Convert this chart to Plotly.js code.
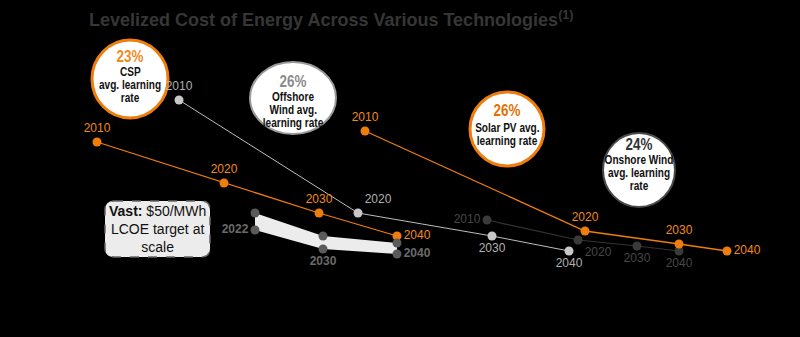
<!DOCTYPE html>
<html><head><meta charset="utf-8">
<script src="https://cdn.plot.ly/plotly-3.0.1.min.js"></script>
<style>html,body{margin:0;padding:0;background:#000;}#chart{width:800px;height:337px;}</style>
</head><body><div id="chart"></div>
<script>
// Positions on the chart's (unitless) layout grid: x = horizontal position, y = relative LCOE (downwards = cheaper)
const years = ["2010", "2020", "2030", "2040"];
const cspX = [97, 224, 319, 397];
const cspY = [142, 183, 213, 236];
const offX = [179, 358, 492, 569];
const offY = [100, 213, 236, 251];
const pvX = [365, 585, 679, 727];
const pvY = [131, 231, 244, 251];
const onX = [487, 578, 637, 679];
const onY = [220, 240, 246, 251];
const vastYears = ["2022", "2030", "2040"];
const vastX = [255, 323, 397];
const vastHigh = [213, 236, 243];
const vastLow = [230, 249, 254];

const orange = "#ef7d0c", orangeTxt = "#f08a1c";
const F = "Liberation Sans, Arial, sans-serif";

function series(x, y, labels, lineColor, lw, mColor, msize, tColor, pos) {
  return {x: x, y: y, type: "scatter", mode: "lines+markers+text", text: labels,
    textposition: pos, textfont: {family: F, size: 12, color: tColor},
    line: {color: lineColor, width: lw}, marker: {color: mColor, size: msize},
    hoverinfo: "skip", cliponaxis: false};
}

const bandX = vastX.concat(vastX.slice().reverse());
const bandY = vastHigh.concat(vastLow.slice().reverse());

const traces = [
  {x: bandX, y: bandY, type: "scatter", mode: "lines", fill: "toself", fillcolor: "#ececec",
   line: {width: 0, color: "#ececec"}, hoverinfo: "skip"},
  series(onX, onY, years, "#333333", 1.2, "#3a3a3a", 9, "#474747",
    ["middle left", "bottom right", "bottom center", "bottom center"]),
  series(offX, offY, years, "#bdbdbd", 1, "#c8c8c8", 9, "#b0b0b0",
    ["top center", "top right", "bottom center", "bottom center"]),
  series(cspX, cspY, years, orange, 1.3, orange, 9, orangeTxt,
    ["top center", "top center", "top center", "middle right"]),
  series(pvX, pvY, years, orange, 1.3, orange, 9, orangeTxt,
    ["top center", "top center", "top center", "middle right"]),
  {x: vastX, y: vastHigh, type: "scatter", mode: "markers", marker: {color: "#5a5a5a", size: 9}, hoverinfo: "skip", cliponaxis: false},
  {x: vastX, y: vastLow, type: "scatter", mode: "markers+text", text: vastYears,
   textposition: ["middle left", "bottom center", "middle right"],
   textfont: {family: F, size: 12, color: "#6a6a6a", weight: "bold"},
   marker: {color: "#5a5a5a", size: 9}, hoverinfo: "skip", cliponaxis: false}
];

function circle(cx, cy, rx, ry, color, lw) {
  return {type: "circle", xref: "x", yref: "y", x0: cx - rx, x1: cx + rx, y0: cy - ry, y1: cy + ry,
    fillcolor: "#ffffff", line: {color: color, width: lw}, layer: "below"};
}
function rrect(x0, y0, x1, y1, r) {
  return "M" + (x0 + r) + "," + y0 + " L" + (x1 - r) + "," + y0 + " Q" + x1 + "," + y0 + " " + x1 + "," + (y0 + r) +
    " L" + x1 + "," + (y1 - r) + " Q" + x1 + "," + y1 + " " + (x1 - r) + "," + y1 +
    " L" + (x0 + r) + "," + y1 + " Q" + x0 + "," + y1 + " " + x0 + "," + (y1 - r) +
    " L" + x0 + "," + (y0 + r) + " Q" + x0 + "," + y0 + " " + (x0 + r) + "," + y0 + " Z";
}

const shapes = [
  circle(130, 79, 38, 39, orange, 3),
  circle(293, 98, 43, 36, "#9a9a9a", 2),
  circle(507, 129, 37, 37, orange, 3),
  circle(639, 170, 36, 37, "#4a4a4a", 2),
  {type: "path", xref: "x", yref: "y", path: rrect(105, 201, 210, 257, 9), fillcolor: "#ececec",
   line: {color: "#666666", width: 1.5, dash: "dash"}, layer: "above"}
];

function ann(x, y, text, size, color) {
  return {x: x, y: y, xref: "x", yref: "y", text: "<b>" + text + "</b>", showarrow: false,
    font: {family: F, size: size, color: color}, xanchor: "center", yanchor: "middle"};
}
const annotations = [
  ann(130, 56, "23%", 16, "#f08a1c"),
  ann(130, 72, "CSP", 12, "#111"),
  ann(130, 85, "avg. learning", 12, "#111"),
  ann(130, 98, "rate", 12, "#111"),
  ann(293, 81, "26%", 16, "#8a8a8a"),
  ann(293, 97, "Offshore", 12, "#111"),
  ann(293, 110, "Wind avg.", 12, "#111"),
  ann(293, 123, "learning rate", 12, "#111"),
  ann(507, 110, "26%", 16, "#e56f00"),
  ann(507, 128, "Solar PV avg.", 12, "#111"),
  ann(507, 141, "learning rate", 12, "#111"),
  ann(639, 144, "24%", 16, "#333"),
  ann(639, 160, "Onshore Wind", 12, "#111"),
  ann(639, 173, "avg. learning", 12, "#111"),
  ann(639, 186, "rate", 12, "#111"),
  {x: 157, y: 229, xref: "x", yref: "y", showarrow: false, xanchor: "center", yanchor: "middle",
   text: "<b>Vast:</b> $50/MWh<br>LCOE target at<br>scale", font: {family: F, size: 14, color: "#111"}}
];
const NARROW = 15; // first annotations (circle labels) use a condensed look

const layout = {
  width: 800, height: 337, margin: {l: 0, r: 0, t: 0, b: 0},
  paper_bgcolor: "#000", plot_bgcolor: "#000", showlegend: false,
  title: {text: "<b>Levelized Cost of Energy Across Various Technologies<sup>(1)</sup></b>",
    x: 89 / 800, xanchor: "left", xref: "paper", y: 1 - 20 / 337, yanchor: "middle",
    font: {family: F, size: 18, color: "#363636"}},
  xaxis: {range: [0, 800], visible: false, fixedrange: true},
  yaxis: {range: [337, 0], visible: false, fixedrange: true},
  shapes: shapes, annotations: annotations
};
Plotly.newPlot("chart", traces, layout, {staticPlot: true, displayModeBar: false}).then(function (gd) {
  gd.querySelectorAll("g.annotation").forEach(function (g) {
    const i = +g.getAttribute("data-index");
    if (i < NARROW) {
      const t = g.querySelector("text.annotation-text");
      if (t) {
        t.style.transformBox = "fill-box";
        t.style.transformOrigin = "center";
        t.style.transform = "scaleX(0.84)";
      }
    }
  });
});
</script></body></html>
